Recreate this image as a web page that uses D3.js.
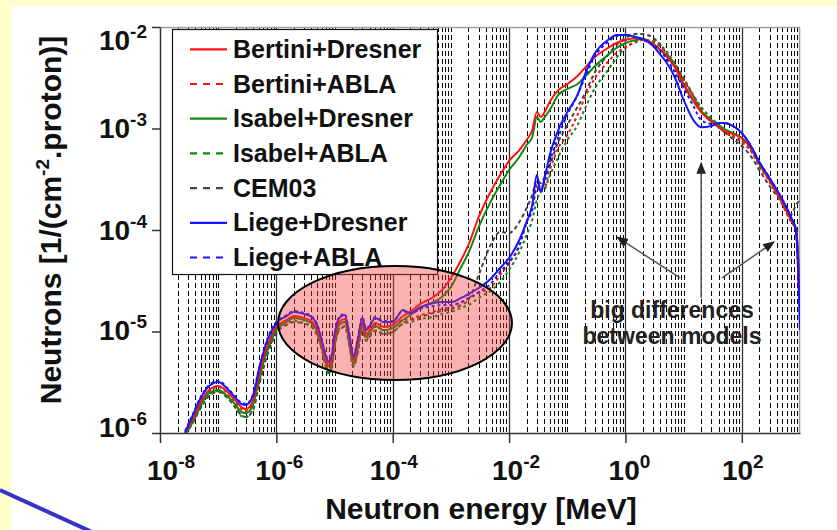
<!DOCTYPE html>
<html><head><meta charset="utf-8">
<script src="https://cdn.jsdelivr.net/npm/d3@7"></script>
<style>
html,body{margin:0;padding:0;background:#fff;}
svg{display:block;font-family:"Liberation Sans",Arial,Helvetica,sans-serif;}
</style></head><body>
<svg id="c" width="837" height="530"></svg>
<script>
// ---------------- DATA ----------------
const energies = [2.7e-8,3.5e-8,5e-8,7e-8,1e-7,1.5e-7,2e-7,2.5e-7,3e-7,4e-7,5e-7,7e-7,1e-6,1.5e-6,2e-6,3e-6,4e-6,5e-6,6e-6,7e-6,8e-6,9e-6,1e-5,1.2e-5,1.5e-5,1.8e-5,2.1e-5,2.5e-5,3e-5,3.5e-5,4e-5,5e-5,7e-5,1e-4,1.5e-4,2e-4,3e-4,5e-4,7e-4,1e-3,1.5e-3,2e-3,3e-3,5e-3,7e-3,1e-2,1.5e-2,2e-2,2.5e-2,3e-2,3.5e-2,4e-2,5e-2,7e-2,0.1,0.15,0.2,0.3,0.5,0.7,1,1.5,2,3,4,5,7,10,15,20,30,40,50,70,100,150,200,300,500,700,850,1000];

const bertiniDresner = [1.0e-6,1.31e-6,2.02e-6,2.65e-6, 2.90e-6,2.48e-6,2.07e-6,1.80e-6,1.72e-6,2.11e-6,3.65e-6,7.20e-6, 1.11e-5,1.30e-5,1.42e-5,1.36e-5,1.27e-5,1.06e-5,7.70e-6,5.48e-6,4.57e-6,5.24e-6, 8.25e-6,1.24e-5,1.33e-5,8.63e-6,5.24e-6,7.36e-6,1.24e-5,9.45e-6,1.03e-5,1.21e-5,1.11e-5, 1.16e-5,1.42e-5,1.56e-5,1.87e-5,2.19e-5,2.56e-5, 3.37e-5,5.06e-5,7.12e-5,1.34e-4,2.48e-4,3.48e-4, 4.79e-4,6.14e-4,7.70e-4,9.66e-4,1.45e-3,1.30e-3,1.42e-3,1.83e-3,2.39e-3, 2.74e-3,3.29e-3,3.94e-3,5.06e-3,6.21e-3,6.96e-3, 7.45e-3,7.80e-3,7.62e-3,6.80e-3,5.93e-3,5.18e-3,4.04e-3, 2.68e-3,1.83e-3,1.45e-3,1.16e-3,1.03e-3,9.45e-4,8.83e-4, 8.06e-4,6.14e-4,4.57e-4,3.11e-4,1.84e-4,1.26e-4,1.00e-4,2.04e-5];

const bertiniABLA = [9.8e-7,1.31e-6,1.98e-6,2.59e-6, 2.84e-6,2.42e-6,2.02e-6,1.72e-6,1.65e-6,2.02e-6,3.48e-6,6.88e-6, 1.08e-5,1.27e-5,1.36e-5,1.30e-5,1.21e-5,1.01e-5,7.36e-6,5.12e-6,4.37e-6,5.00e-6, 7.70e-6,1.16e-5,1.24e-5,8.06e-6,4.90e-6,6.88e-6,1.16e-5,8.83e-6,9.66e-6,1.13e-5,1.03e-5, 1.08e-5,1.30e-5,1.33e-5,1.45e-5,1.56e-5,1.67e-5, 1.74e-5,1.95e-5,2.09e-5,2.39e-5,2.74e-5,3.60e-5, 4.73e-5,7.12e-5,1.20e-4,1.68e-4,2.59e-4,2.78e-4,2.59e-4,3.90e-4,6.42e-4, 8.63e-4,1.36e-3,2.00e-3,3.15e-3,4.52e-3,5.54e-3, 6.35e-3,7.11e-3,7.45e-3,7.11e-3,6.35e-3,5.54e-3,4.22e-3, 3.01e-3,2.05e-3,1.52e-3,1.21e-3,1.03e-3,9.24e-4,8.24e-4, 7.36e-4,5.73e-4,4.27e-4,2.97e-4,1.76e-4,1.20e-4,1.00e-4,2.04e-5];

const isabelDresner = [9.8e-7,1.23e-6,1.89e-6,2.48e-6, 2.65e-6,2.26e-6,1.89e-6,1.61e-6,1.57e-6,1.93e-6,3.33e-6,6.57e-6, 1.03e-5,1.24e-5,1.36e-5,1.30e-5,1.21e-5,1.01e-5,7.20e-6,5.00e-6,3.99e-6,4.79e-6, 7.53e-6,1.16e-5,1.24e-5,8.06e-6,4.90e-6,6.88e-6,1.16e-5,8.83e-6,9.66e-6,1.13e-5,1.03e-5, 1.08e-5,1.30e-5,1.45e-5,1.71e-5,1.95e-5,2.19e-5, 2.74e-5,4.32e-5,5.93e-5,1.07e-4,1.98e-4,2.78e-4, 3.90e-4,5.24e-4,6.88e-4,8.24e-4,1.30e-3,1.16e-3,1.27e-3,1.52e-3,2.14e-3, 2.45e-3,2.74e-3,3.22e-3,4.13e-3,5.30e-3,6.21e-3, 6.96e-3,7.45e-3,7.62e-3,6.80e-3,5.93e-3,5.30e-3,4.13e-3, 2.74e-3,1.87e-3,1.49e-3,1.21e-3,1.08e-3,9.89e-4,9.03e-4, 8.06e-4,6.14e-4,4.47e-4,3.11e-4,1.84e-4,1.26e-4,1.05e-4,2.04e-5];

const isabelABLA = [9.6e-7,1.23e-6,1.80e-6,2.37e-6, 2.59e-6,2.21e-6,1.80e-6,1.47e-6,1.44e-6,1.76e-6,3.11e-6,6.28e-6, 1.01e-5,1.19e-5,1.27e-5,1.21e-5,1.13e-5,9.45e-6,6.88e-6,4.68e-6,3.82e-6,4.57e-6, 7.03e-6,1.06e-5,1.13e-5,7.36e-6,4.47e-6,6.28e-6,1.06e-5,8.25e-6,9.03e-6,1.03e-5,9.45e-6, 9.89e-6,1.19e-5,1.24e-5,1.33e-5,1.39e-5,1.49e-5, 1.56e-5,1.71e-5,1.82e-5,2.14e-5,2.56e-5,3.08e-5, 4.04e-5,6.07e-5,8.93e-5,1.26e-4,1.98e-4,2.37e-4,2.48e-4,3.41e-4,5.24e-4, 7.70e-4,1.08e-3,1.56e-3,2.51e-3,3.77e-3,4.95e-3, 6.21e-3,7.11e-3,7.45e-3,7.28e-3,6.65e-3,5.80e-3,4.42e-3, 3.15e-3,2.09e-3,1.63e-3,1.27e-3,1.08e-3,9.45e-4,8.43e-4, 7.53e-4,5.87e-4,4.37e-4,3.04e-4,1.80e-4,1.23e-4,1.02e-4,2.04e-5];

const cem03 = [9.6e-7,1.20e-6,1.76e-6,2.32e-6, 2.54e-6,2.16e-6,1.76e-6,1.50e-6,1.44e-6,1.69e-6,2.90e-6,5.87e-6, 9.66e-6,1.16e-5,1.24e-5,1.19e-5,1.11e-5,9.24e-6,6.72e-6,4.57e-6,3.90e-6,4.47e-6, 6.88e-6,1.03e-5,1.11e-5,7.20e-6,4.57e-6,6.14e-6,1.03e-5,8.06e-6,8.83e-6,1.01e-5,9.45e-6, 9.89e-6,1.21e-5,1.30e-5,1.39e-5,1.52e-5,1.59e-5, 1.67e-5,1.82e-5,2.04e-5,3.60e-5,7.45e-5,9.56e-5, 9.34e-5,1.20e-4,1.64e-4,2.21e-4,3.11e-4,2.90e-4,3.26e-4,4.37e-4,7.36e-4, 1.08e-3,1.63e-3,2.19e-3,3.60e-3,5.30e-3,6.65e-3, 7.80e-3,8.53e-3,8.53e-3,7.80e-3,6.65e-3,5.54e-3,4.32e-3, 3.01e-3,2.05e-3,1.52e-3,1.19e-3,1.03e-3,9.24e-4,7.88e-4, 6.72e-4,5.12e-4,3.90e-4,2.71e-4,1.84e-4,1.41e-4,1.76e-4,1.98e-4];

const liegeDresner = [1.02e-6,1.41e-6,2.21e-6,2.90e-6, 3.18e-6,2.65e-6,2.21e-6,1.93e-6,1.89e-6,2.37e-6,4.18e-6,8.25e-6, 1.21e-5,1.42e-5,1.56e-5,1.49e-5,1.39e-5,1.16e-5,8.25e-6,5.87e-6,5.00e-6,5.87e-6, 9.24e-6,1.36e-5,1.45e-5,9.24e-6,5.60e-6,8.25e-6,1.36e-5,1.03e-5,1.13e-5,1.36e-5,1.24e-5, 1.24e-5,1.63e-5,1.52e-5,1.74e-5,1.91e-5,1.95e-5, 1.95e-5,2.14e-5,2.34e-5,2.68e-5,3.37e-5,4.22e-5, 5.30e-5,7.97e-5,1.20e-4,1.76e-4,3.48e-4,2.37e-4,3.11e-4,5.48e-4,9.66e-4, 1.45e-3,2.14e-3,3.37e-3,5.54e-3,7.45e-3,8.34e-3, 8.34e-3,7.97e-3,7.62e-3,6.50e-3,5.30e-3,4.52e-3,3.22e-3, 1.91e-3,1.19e-3,1.03e-3,1.06e-3,1.13e-3,1.13e-3,1.06e-3, 9.03e-4,6.42e-4,4.68e-4,3.26e-4,1.98e-4,1.34e-4,1.00e-4,1.03e-5];

const liegeABLA = [1.05e-6,1.44e-6,2.26e-6,2.97e-6, 3.26e-6,2.71e-6,2.26e-6,1.98e-6,1.93e-6,2.42e-6,4.27e-6,8.43e-6, 1.24e-5,1.45e-5,1.59e-5,1.52e-5,1.42e-5,1.19e-5,8.43e-6,6.00e-6,5.12e-6,6.00e-6, 9.45e-6,1.39e-5,1.49e-5,9.45e-6,5.73e-6,8.43e-6,1.39e-5,1.06e-5,1.16e-5,1.39e-5,1.27e-5, 1.27e-5,1.59e-5,1.49e-5,1.67e-5,1.78e-5,1.82e-5, 1.82e-5,1.95e-5,2.14e-5,2.45e-5,3.01e-5,3.86e-5, 4.84e-5,6.95e-5,1.20e-4,1.57e-4,2.78e-4,2.37e-4,2.90e-4,4.68e-4,8.24e-4, 1.36e-3,2.14e-3,3.15e-3,5.18e-3,7.11e-3,8.15e-3, 8.34e-3,7.97e-3,7.45e-3,6.65e-3,5.80e-3,4.95e-3,3.60e-3, 2.51e-3,1.63e-3,1.21e-3,1.11e-3,1.13e-3,1.13e-3,1.06e-3, 9.03e-4,6.42e-4,4.68e-4,3.26e-4,1.98e-4,1.34e-4,1.00e-4,1.30e-5];

const seriesNames = ["Bertini+Dresner","Bertini+ABLA","Isabel+Dresner","Isabel+ABLA","CEM03","Liege+Dresner","Liege+ABLA"];
const seriesValues = [bertiniDresner,bertiniABLA,isabelDresner,isabelABLA,cem03,liegeDresner,liegeABLA];

const xTickValues = [1e-8,1e-6,1e-4,1e-2,1,1e2];
const xTickExponents = ["-8","-6","-4","-2","0","2"];
const yTickValues = [1e-2,1e-3,1e-4,1e-5,1e-6];
const yTickExponents = ["-2","-3","-4","-5","-6"];

const annotationLines = ["big differences","between models"];

// ---------------- STYLES / LAYOUT ----------------
const styles = [
  {color:"#ff1111", dash:null,  ldash:null},
  {color:"#ff1111", dash:"3,3", ldash:"7,6"},
  {color:"#118811", dash:null,  ldash:null},
  {color:"#118811", dash:"3,3", ldash:"7,6"},
  {color:"#444444", dash:"4,3", ldash:"7,6"},
  {color:"#1515ff", dash:null,  ldash:null},
  {color:"#1515ff", dash:"3,3", ldash:"7,6"}
];
const drawOrder = [4,3,1,2,0,6,5];

const L = 160, R = 800, T = 27, B = 433;
const svg = d3.select("#c");

// slide background
svg.append("rect").attr("x",0).attr("y",0).attr("width",837).attr("height",530).attr("fill","#ffffcc");
svg.append("rect").attr("x",11).attr("y",6).attr("width",826).attr("height",524).attr("fill","#ffffff");
svg.append("line").attr("x1",0).attr("y1",490).attr("x2",92).attr("y2",532)
  .attr("stroke","#3434c8").attr("stroke-width",4);

const x = d3.scaleLog().domain([1e-8,1e3]).range([L,R]);
const y = d3.scaleLog().domain([1e-6,1e-2]).range([B,T]);

const defs = svg.append("defs");
defs.append("clipPath").attr("id","plotclip")
  .append("rect").attr("x",L).attr("y",T).attr("width",R-L).attr("height",B-T);

// grid (every 1..9 x 10^n)
const gridVals = x.ticks(50).filter(v => v > 1.01e-8 && v < 0.99e3);
const isEvenDecade = v => { const l = Math.log10(v), r = Math.round(l); return Math.abs(l-r) < 1e-6 && r % 2 === 0; };
const gGrid = svg.append("g");
gGrid.selectAll("line").data(gridVals).join("line")
  .attr("x1", d => Math.round(x(d))+0.5).attr("x2", d => Math.round(x(d))+0.5)
  .attr("y1", T).attr("y2", B)
  .attr("stroke", d => isEvenDecade(d) ? "#333" : "#000")
  .attr("stroke-width", d => isEvenDecade(d) ? 1.3 : 1)
  .attr("stroke-dasharray", d => isEvenDecade(d) ? null : "5,3");

// frame (top & right in gray)
svg.append("path").attr("d",`M${L},${T+0.5}H${R-0.5}V${B}`).attr("fill","none").attr("stroke","#a0a0a0").attr("stroke-width",1.5);

// curves
const line = d3.line().x(d => x(d[0])).y(d => y(d[1])).curve(d3.curveMonotoneX);
const gCurves = svg.append("g").attr("clip-path","url(#plotclip)");
drawOrder.forEach(i => {
  const pts = energies.map((e,k) => [e, seriesValues[i][k]]);
  gCurves.append("path").datum(pts).attr("d", line)
    .attr("fill","none").attr("stroke", styles[i].color)
    .attr("stroke-width", 2).attr("stroke-dasharray", styles[i].dash)
    .attr("stroke-linejoin","round");
});

// axes
const gx = svg.append("g").attr("transform",`translate(0,${B})`)
  .call(d3.axisBottom(x).tickValues(xTickValues).tickSize(10).tickSizeOuter(0).tickFormat(""));
const gy = svg.append("g").attr("transform",`translate(${L},0)`)
  .call(d3.axisLeft(y).tickValues(yTickValues).tickSize(8).tickSizeOuter(0).tickFormat(""));
[gx,gy].forEach(g => { g.selectAll("path,line").attr("stroke","#333").attr("stroke-width",1.5); });

// tick labels with superscripts
const xLabelDx = [11,3,1,7,4,1];
xTickValues.forEach((v,i) => {
  const t = svg.append("text").attr("x", x(v)+xLabelDx[i]).attr("y", 480)
    .attr("text-anchor","middle").attr("font-weight","bold").attr("font-size",28).attr("fill","#111");
  t.append("tspan").text("10");
  t.append("tspan").attr("dy",-12).attr("font-size",19).text(xTickExponents[i]);
});
const yLabelDy = [23,9,10,8,4];
yTickValues.forEach((v,i) => {
  const t = svg.append("text").attr("x", 147).attr("y", y(v)+yLabelDy[i])
    .attr("text-anchor","end").attr("font-weight","bold").attr("font-size",28).attr("fill","#111");
  t.append("tspan").text("10");
  t.append("tspan").attr("dy",-12).attr("font-size",19).text(yTickExponents[i]);
});

// axis titles
svg.append("text").attr("x",481).attr("y",519).attr("text-anchor","middle")
  .attr("font-weight","bold").attr("font-size",30).attr("fill","#111").text("Neutron energy [MeV]");
const yt = svg.append("text").attr("transform","translate(61,220) rotate(-90)").attr("text-anchor","middle")
  .attr("font-weight","bold").attr("font-size",30).attr("fill","#111");
yt.append("tspan").text("Neutrons [1/(cm");
yt.append("tspan").attr("dy",-12).attr("font-size",19).text("-2");
yt.append("tspan").attr("dy",12).text(".proton)]");

// legend
const gLeg = svg.append("g");
gLeg.append("rect").attr("x",172.5).attr("y",29.5).attr("width",265).attr("height",245)
  .attr("fill","#fff").attr("stroke","#111").attr("stroke-width",1.2);
seriesNames.forEach((n,i) => {
  const yy = 49.3 + i*34.7;
  gLeg.append("line").attr("x1",190).attr("x2",227).attr("y1",yy).attr("y2",yy)
    .attr("stroke",styles[i].color).attr("stroke-width",2.2).attr("stroke-dasharray",styles[i].ldash);
  gLeg.append("text").attr("x",233).attr("y",yy+8.5).attr("font-weight","bold").attr("font-size",25)
    .attr("fill","#111").text(n);
});

// highlighted ellipse (low-energy region)
const eL = x(1.07e-6), eR = x(1.12e-2), eT = y(4.42e-5), eB = y(3.33e-6);
svg.append("ellipse").attr("cx",(eL+eR)/2).attr("cy",(eT+eB)/2)
  .attr("rx",(eR-eL)/2).attr("ry",(eB-eT)/2)
  .attr("fill","rgb(240,60,60)").attr("fill-opacity",0.4)
  .attr("stroke","#000").attr("stroke-width",2);

// annotation arrows
defs.append("marker").attr("id","ah").attr("viewBox","0 0 10 10").attr("refX",9).attr("refY",5)
  .attr("markerWidth",8).attr("markerHeight",8).attr("orient","auto-start-reverse")
  .append("path").attr("d","M0,1L10,5L0,9Z").attr("fill","#222");
const arrows = [
  {from:[8.7,3.37e-5], to:[0.72,8.5e-5]},
  {from:[20,2.14e-5], to:[20,4.57e-4]},
  {from:[45.7,3.37e-5], to:[357,7.63e-5]}
];
arrows.forEach(a => {
  svg.append("line").attr("x1",x(a.from[0])).attr("y1",y(a.from[1]))
    .attr("x2",x(a.to[0])).attr("y2",y(a.to[1]))
    .attr("stroke","#555").attr("stroke-width",1.5).attr("marker-end","url(#ah)");
});
annotationLines.forEach((s,i) => {
  svg.append("text").attr("x",672).attr("y",318+i*26).attr("text-anchor","middle")
    .attr("font-weight","bold").attr("font-size",23).attr("fill","#222").text(s);
});
</script>
</body></html>
